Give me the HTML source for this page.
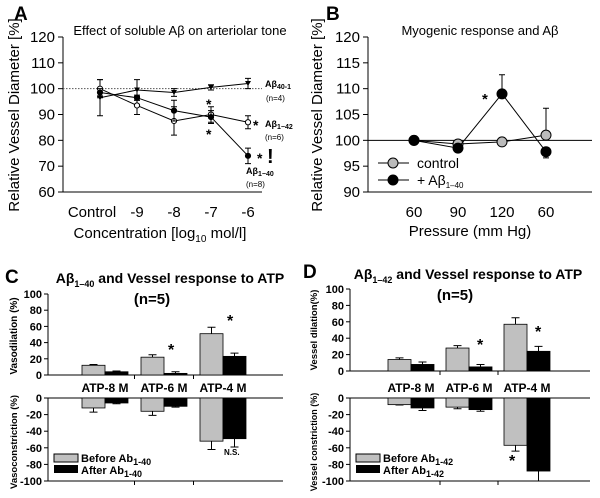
<!DOCTYPE html>
<html><head><meta charset="utf-8"><style>
body{margin:0;background:#fff;}
svg{display:block;font-family:"Liberation Sans",sans-serif;}
</style></head><body>
<svg id="fig" width="600" height="498" viewBox="0 0 600 498" xmlns="http://www.w3.org/2000/svg">
<g>
<text x="14" y="20" font-size="19" font-weight="bold">A</text>
<text x="180" y="35" font-size="13" text-anchor="middle">Effect of soluble Aβ on arteriolar tone</text>
<text transform="translate(19,115) rotate(-90)" font-size="15" text-anchor="middle">Relative Vessel Diameter [%]</text>
<text x="160" y="238" font-size="15" text-anchor="middle">Concentration [log<tspan font-size="10" dy="4">10</tspan><tspan dy="-4"> mol/l]</tspan></text>
<g id="ga"></g>
</g>
<g>
<text x="326" y="20" font-size="19" font-weight="bold">B</text>
<text x="480" y="35" font-size="13" text-anchor="middle">Myogenic response and Aβ</text>
<text transform="translate(322,115) rotate(-90)" font-size="15" text-anchor="middle">Relative Vessel Diameter [%]</text>
<text x="470" y="236" font-size="15" text-anchor="middle">Pressure (mm Hg)</text>
<g id="gb"></g>
</g>
<g>
<text x="5" y="283" font-size="19" font-weight="bold">C</text>
<text x="170" y="283" font-size="14" font-weight="bold" text-anchor="middle">Aβ<tspan font-size="9" dy="4">1–40</tspan><tspan dy="-4"> and Vessel response to ATP</tspan></text>
<text x="152" y="304" font-size="15" font-weight="bold" text-anchor="middle">(n=5)</text>
<text transform="translate(17,336) rotate(-90)" font-size="10" font-weight="bold" text-anchor="middle">Vasodilation (%)</text>
<text transform="translate(17,442) rotate(-90)" font-size="9.5" font-weight="bold" text-anchor="middle">Vasoconstriction (%)</text>
<g id="gc"></g>
</g>
<g>
<text x="303" y="278" font-size="19" font-weight="bold">D</text>
<text x="468" y="279" font-size="14" font-weight="bold" text-anchor="middle">Aβ<tspan font-size="9" dy="4">1–42</tspan><tspan dy="-4"> and Vessel response to ATP</tspan></text>
<text x="455" y="300" font-size="15" font-weight="bold" text-anchor="middle">(n=5)</text>
<text transform="translate(317,330) rotate(-90)" font-size="9.5" font-weight="bold" text-anchor="middle">Vessel dilation(%)</text>
<text transform="translate(317,442) rotate(-90)" font-size="9" font-weight="bold" text-anchor="middle">Vessel constriction (%)</text>
<g id="gd"></g>
</g>
</svg>
<script>
// Panel A data
const aCats = ["Control","-9","-8","-7","-6"];
const a4001 = [96.5,99.5,98.5,100.5,102];
const a4001Err = [7,4,1.5,1,2];
const a142 = [100,93.5,87.5,90,87];
const a142Err = [3.5,3.5,5.5,3,2.5];
const a140 = [98.5,96.5,91.5,89,74];
const a140Err = [1.5,1,4,2.5,3];
const aTicks = [60,70,80,90,100,110,120];
// Panel B data
const bCats = ["60","90","120","60"];
const bControl = [100,99.3,99.7,101];
const bControlErr = [0,0.5,0,5.2];
const bAb = [100,98.5,109,97.8];
const bAbErr = [0,0.6,3.7,1.2];
const bTicks = [90,95,100,105,110,115,120];
// Panel C data
const barCats = ["ATP-8 M","ATP-6 M","ATP-4 M"];
const cUpBefore = [12,22,51];
const cUpBeforeErr = [1,3,8];
const cUpAfter = [4,2,23];
const cUpAfterErr = [1,2,4];
const cLoBefore = [-12,-16,-52];
const cLoBeforeErr = [5,5,10];
const cLoAfter = [-6,-10,-49];
const cLoAfterErr = [1,1,10];
// Panel D data
const dUpBefore = [14,28,57];
const dUpBeforeErr = [2,3,8];
const dUpAfter = [8,5,24];
const dUpAfterErr = [3,3,6];
const dLoBefore = [-8,-11,-57];
const dLoBeforeErr = [0.5,2,7];
const dLoAfter = [-12,-14,-88];
const dLoAfterErr = [3,2,12];
const upTicks = [0,20,40,60,80,100];
const loTicks = [-100,-80,-60,-40,-20,0];

const NS="http://www.w3.org/2000/svg";
function mk(parent,tag,attrs,txt){const e=document.createElementNS(NS,tag);for(const k in attrs)e.setAttribute(k,attrs[k]);if(txt!==undefined)e.textContent=txt;parent.appendChild(e);return e;}
function lin(d0,d1,r0,r1){return v=>r0+(v-d0)/(d1-d0)*(r1-r0);}

// ---------- Panel A
(function(){
const g=document.getElementById('ga');
const y=lin(60,120,192,37);
const x=i=>100+i*37;
let ax=mk(g,'path',{d:'M63,37V192H262',fill:'none',stroke:'#000','stroke-width':1});

aTicks.forEach(t=>{mk(g,'line',{x1:58,x2:63,y1:y(t),y2:y(t),stroke:'#000'});
 let tl=mk(g,'text',{x:55,y:y(t)+5,'font-size':15,'text-anchor':'end'},t);
 });
aCats.forEach((c,i)=>{let tl=mk(g,'text',{x:x(i)+(i==0?-8:0),y:217,'font-size':15,'text-anchor':'middle'},c);
 });
let ref=mk(g,'line',{x1:63,x2:262,y1:y(100),y2:y(100),stroke:'#555','stroke-dasharray':'1.5,1.5'});

function series(vals,errs,name,kind){
 const sg=mk(g,'g',{});
 
 mk(sg,'polyline',{points:vals.map((v,i)=>x(i)+','+y(v)).join(' '),fill:'none',stroke:'#000','stroke-width':1});
 vals.forEach((v,i)=>{const e=errs[i];
  mk(sg,'path',{d:`M${x(i)},${y(v-e)}V${y(v+e)}M${x(i)-3},${y(v-e)}h6M${x(i)-3},${y(v+e)}h6`,stroke:'#000',fill:'none'});
  let m;
  if(kind==='tri') m=mk(sg,'path',{d:`M${x(i)-3},${y(v)-2.5}h6l-3,5z`,fill:'#000'});
  else m=mk(sg,'circle',{cx:x(i),cy:y(v),r:2.6,fill:kind==='open'?'#fff':'#000',stroke:'#000'});
  
 });
}
series(a4001,a4001Err,'series-abeta-40-1','tri');
series(a142,a142Err,'series-abeta-1-42','open');
series(a140,a140Err,'series-abeta-1-40','fill');
const lab=(tx,ty,t,fs,w)=>{let e=mk(g,'text',{x:tx,y:ty,'font-size':fs,'font-weight':w||'normal'});e.innerHTML=t;};
lab(265,87,'Aβ<tspan font-size="7" dy="2">40-1</tspan>',9,'bold');
lab(266,101,'(n=4)',8);
lab(265,127,'Aβ<tspan font-size="7" dy="2">1−42</tspan>',9,'bold');
lab(265,140,'(n=6)',8);
lab(246,174,'Aβ<tspan font-size="7" dy="2">1−40</tspan>',9,'bold');
lab(246,187,'(n=8)',8);
lab(253,130,'*',14,'bold');
lab(206,109,'*',14,'bold');
lab(206,139,'*',14,'bold');
lab(257,163,'*',14,'bold');
lab(267,163,'!',20,'bold');
})();

// ---------- Panel B
(function(){
const g=document.getElementById('gb');
const y=lin(90,120,192,37);
const x=i=>414+i*44;
mk(g,'path',{d:'M368,37V192H592',fill:'none',stroke:'#000'});
bTicks.forEach(t=>{mk(g,'line',{x1:363,x2:368,y1:y(t),y2:y(t),stroke:'#000'});
 let tl=mk(g,'text',{x:360,y:y(t)+5,'font-size':15,'text-anchor':'end'},t);
 });
bCats.forEach((c,i)=>{let tl=mk(g,'text',{x:x(i),y:217,'font-size':15,'text-anchor':'middle'},c);
 });
let ref=mk(g,'line',{x1:368,x2:592,y1:y(100),y2:y(100),stroke:'#000'});

function series(vals,errs,name,col,up){
 const sg=mk(g,'g',{});
 
 mk(sg,'polyline',{points:vals.map((v,i)=>x(i)+','+y(v)).join(' '),fill:'none',stroke:'#000'});
 vals.forEach((v,i)=>{const e=errs[i];if(e>0){const yy=up[i]?y(v+e):y(v-e);
  mk(sg,'path',{d:`M${x(i)},${y(v)}V${yy}M${x(i)-3},${yy}h6`,stroke:'#000'});}
  let m=mk(sg,'circle',{cx:x(i),cy:y(v),r:5,fill:col,stroke:'#000'});
  });
}
series(bControl,bControlErr,'series-control','#bbb',[1,0,1,1]);
series(bAb,bAbErr,'series-abeta-1-40','#000',[1,0,1,0]);
let st=mk(g,'text',{x:482,y:104,'font-size':15,'font-weight':'bold'},'*');

const lg=mk(g,'g',{});
mk(lg,'line',{x1:378,x2:409,y1:163,y2:163,stroke:'#000'});
mk(lg,'circle',{cx:393,cy:163,r:5,fill:'#bbb',stroke:'#000'});
mk(lg,'text',{x:417,y:168,'font-size':14},'control');
mk(lg,'line',{x1:378,x2:409,y1:180,y2:180,stroke:'#000'});
mk(lg,'circle',{cx:393,cy:180,r:5,fill:'#000',stroke:'#000'});
let t=mk(lg,'text',{x:417,y:185,'font-size':14});t.innerHTML='+ Aβ<tspan font-size="8" dy="3">1–40</tspan>';
})();

// ---------- Bar panels
function barPanel(gid,pre,ax0,axEnd,upY0,upY100,centers,bw,upB,upBE,upA,upAE,loB,loBE,loA,loAE,legTxt){
 const g=document.getElementById(gid);
 const yu=lin(0,100,upY0,upY100), yl=lin(-100,0,481,398);
 mk(g,'path',{d:`M${ax0},${upY100}V${upY0}H${axEnd}`,fill:'none',stroke:'#000'});
 mk(g,'path',{d:`M${ax0},398V481H${axEnd}M${ax0},398H${axEnd}`,fill:'none',stroke:'#000'});
 upTicks.forEach(t=>{mk(g,'line',{x1:ax0-4,x2:ax0,y1:yu(t),y2:yu(t),stroke:'#000'});
  let tl=mk(g,'text',{x:ax0-6,y:yu(t)+4,'font-size':11,'font-weight':'bold','text-anchor':'end'},t);
  });
 loTicks.forEach(t=>{mk(g,'line',{x1:ax0-4,x2:ax0,y1:yl(t),y2:yl(t),stroke:'#000'});
  let tl=mk(g,'text',{x:ax0-6,y:yl(t)+4,'font-size':11,'font-weight':'bold','text-anchor':'end'},t);
  });
 barCats.forEach((c,i)=>{let tl=mk(g,'text',{x:centers[i],y:392,'font-size':12,'font-weight':'bold','text-anchor':'middle'},c);
  
  if(i<2){const tx=(centers[i]+centers[i+1])/2;mk(g,'line',{x1:tx,x2:tx,y1:upY0,y2:upY0+4,stroke:'#000'});mk(g,'line',{x1:tx,x2:tx,y1:481,y2:485,stroke:'#000'});}});
 function bars(vals,errs,y,y0,off,col,name){
  vals.forEach((v,i)=>{const bx=centers[i]+off;const top=Math.min(y(v),y0),h=Math.abs(y(v)-y0);
   const e=v>=0?y(v+errs[i]):y(v-errs[i]);
   mk(g,'path',{d:`M${bx+bw/2},${y(v)}V${e}M${bx+bw/2-4},${e}h8`,stroke:'#000'});
   let r=mk(g,'rect',{x:bx,y:top,width:bw,height:h,fill:col,stroke:'#000','stroke-width':0.8});
   });
 }
 bars(upB,upBE,yu,upY0,-bw,'#c0c0c0',pre+'-bar-before-dilation');
 bars(upA,upAE,yu,upY0,0,'#000',pre+'-bar-after-dilation');
 bars(loB,loBE,yl,398,-bw,'#c0c0c0',pre+'-bar-before-constriction');
 bars(loA,loAE,yl,398,0,'#000',pre+'-bar-after-constriction');
 const lg=mk(g,'g',{});
 mk(lg,'rect',{x:ax0+6,y:454,width:24,height:8,fill:'#c0c0c0',stroke:'#000'});
 mk(lg,'rect',{x:ax0+6,y:465,width:24,height:8,fill:'#000'});
 let t1=mk(lg,'text',{x:ax0+33,y:462,'font-size':11,'font-weight':'bold'});t1.innerHTML='Before Ab<tspan font-size="9" dy="3">'+legTxt+'</tspan>';
 let t2=mk(lg,'text',{x:ax0+33,y:474,'font-size':11,'font-weight':'bold'});t2.innerHTML='After Ab<tspan font-size="9" dy="3">'+legTxt+'</tspan>';
 return {g,yu,yl};
}
(function(){
 const p=barPanel('gc','panel-c',48,283,375,294,[105,164,223],23,cUpBefore,cUpBeforeErr,cUpAfter,cUpAfterErr,cLoBefore,cLoBeforeErr,cLoAfter,cLoAfterErr,'1-40');
 [[168,355,'*',16],[227,326,'*',16],[224,455,'N.S.',8]].forEach(a=>{let t=mk(p.g,'text',{x:a[0],y:a[1],'font-size':a[3],'font-weight':'bold'},a[2]);});
})();
(function(){
 const p=barPanel('gd','panel-d',350,590,371,289,[411,469,527],23,dUpBefore,dUpBeforeErr,dUpAfter,dUpAfterErr,dLoBefore,dLoBeforeErr,dLoAfter,dLoAfterErr,'1-42');
 [[477,350,'*',16],[535,337,'*',16],[509,466,'*',16]].forEach(a=>{let t=mk(p.g,'text',{x:a[0],y:a[1],'font-size':a[3],'font-weight':'bold'},a[2]);});
})();
</script>
</body></html>
